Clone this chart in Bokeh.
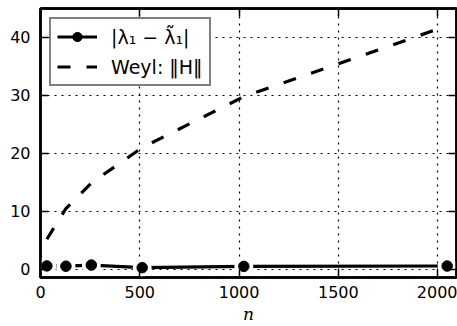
from bokeh.plotting import figure
from bokeh.models import (Range1d, LinearAxis, FixedTicker, Legend, LegendItem,
                          CustomLabelingPolicy)
from bokeh.embed import file_html
from bokeh.resources import INLINE

# ---- data ----
n_vals = [32, 128, 256, 512, 1024, 2048]
err_vals = [0.60, 0.55, 0.75, 0.30, 0.52, 0.58]
weyl_vals = [5.2, 10.5, 14.9, 21.0, 29.8, 42.0]

x_ticks = [0, 500, 1000, 1500, 2000]
y_ticks = [0, 10, 20, 30, 40]

err_label = "|λ₁ − λ̃₁|"
weyl_label = "Weyl: ‖H‖"

FONT = "DejaVu Sans"

p = figure(width=457, height=326, output_backend="svg", toolbar_location=None,
           x_range=Range1d(0, 2095), y_range=Range1d(-1.4, 45),
           min_border_left=40, min_border_right=1, min_border_top=8,
           min_border_bottom=49, background_fill_color="white",
           border_fill_color="white")

p.outline_line_color = "black"
p.outline_line_width = 2.5

# grid
for g in (p.xgrid, p.ygrid):
    g.grid_line_color = "black"
    g.grid_line_dash = "2 5"
    g.grid_line_width = 1.2
p.xgrid.ticker = FixedTicker(ticks=x_ticks)
p.ygrid.ticker = FixedTicker(ticks=y_ticks)

no_labels = CustomLabelingPolicy(
    code="const r = indices.clone(); for (const i of indices) { r.unset(i) } return r")

def style_axis(ax, ticks, show_labels=True):
    ax.ticker = FixedTicker(ticks=ticks)
    ax.minor_tick_line_color = None
    ax.major_tick_in = 8
    ax.major_tick_out = 0
    ax.major_tick_line_color = "black"
    ax.major_tick_line_width = 1.5
    ax.axis_line_color = "black"
    ax.axis_line_width = 2.5
    ax.major_label_text_font = FONT
    ax.major_label_text_color = "black"
    if show_labels:
        ax.major_label_text_font_size = "16px"
        ax.major_label_standoff = 8
    else:
        ax.major_label_text_font_size = "0px"
        ax.major_label_standoff = 0
        ax.major_label_policy = no_labels

style_axis(p.xaxis[0], x_ticks)
style_axis(p.yaxis[0], y_ticks)
p.yaxis[0].major_label_standoff = 10
p.xaxis[0].axis_label = "n"
p.xaxis[0].axis_label_text_font = "DejaVu Serif"
p.xaxis[0].axis_label_text_font_style = "italic"
p.xaxis[0].axis_label_text_font_size = "17px"
p.xaxis[0].axis_label_standoff = 3
p.xaxis[0].axis_label_text_color = "black"

top_ax = LinearAxis()
style_axis(top_ax, x_ticks, show_labels=False)
p.add_layout(top_ax, "above")
right_ax = LinearAxis()
style_axis(right_ax, y_ticks, show_labels=False)
p.add_layout(right_ax, "right")

# series
weyl_line = p.line(n_vals, weyl_vals, line_color="black", line_width=3.2,
                   line_dash="13 16")
err_line = p.line(n_vals, err_vals, line_color="black", line_width=3.2)
# white halo so the line stops short of each marker, as in the reference
p.scatter(n_vals, err_vals, size=19, fill_color="white", line_color=None)
err_pts = p.scatter(n_vals, err_vals, size=10.5, fill_color="black",
                    line_color="black", line_width=1)

legend = Legend(items=[
    LegendItem(label=err_label, renderers=[err_line, err_pts]),
    LegendItem(label=weyl_label, renderers=[weyl_line]),
], location="top_left")
legend.margin = 9
legend.padding = 6
legend.spacing = 7
legend.glyph_width = 40
legend.glyph_height = 23
legend.label_height = 23
legend.label_standoff = 14
legend.label_text_font = FONT
legend.label_text_font_size = "19px"
legend.label_text_color = "black"
legend.border_line_color = "black"
legend.border_line_width = 2.5
legend.background_fill_color = "white"
legend.background_fill_alpha = 1.0
p.add_layout(legend)

open("out.html", "w").write(file_html(p, INLINE))
